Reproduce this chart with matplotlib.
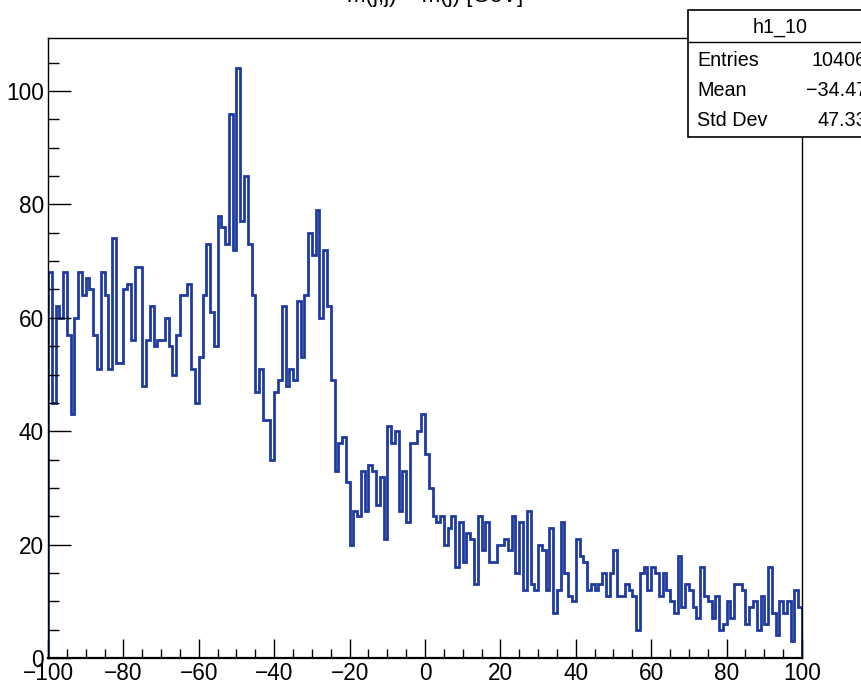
import numpy as np
import matplotlib
matplotlib.use("Agg")
import matplotlib.pyplot as plt
from matplotlib.patches import Rectangle
from matplotlib.ticker import MultipleLocator
from matplotlib import font_manager

# datos del histograma (200 bins de -100 a 100)
x_min, x_max, n_bins = -100, 100, 200
counts = [
    68, 45, 62, 60, 68, 57, 43, 60, 68, 64, 67, 65, 57, 51, 68, 64, 51, 74, 52, 52,
    65, 66, 56, 69, 69, 48, 56, 62, 55, 56, 56, 60, 55, 50, 57, 64, 64, 66, 51, 45,
    53, 64, 73, 61, 55, 78, 76, 73, 96, 72, 104, 77, 85, 73, 64, 47, 51, 42, 42, 35,
    47, 49, 62, 48, 51, 49, 63, 53, 64, 75, 71, 79, 60, 72, 62, 49, 33, 38, 39, 31,
    20, 26, 25, 33, 26, 34, 33, 27, 32, 21, 41, 38, 40, 26, 33, 24, 38, 38, 40, 43,
    36, 30, 25, 24, 25, 20, 23, 25, 16, 24, 17, 22, 21, 13, 25, 19, 24, 17, 17, 20,
    20, 21, 19, 25, 15, 24, 12, 26, 13, 12, 20, 19, 12, 23, 8, 12, 24, 15, 11, 10,
    21, 18, 17, 12, 13, 12, 13, 15, 11, 15, 19, 11, 11, 13, 12, 11, 5, 15, 16, 12,
    16, 15, 11, 15, 12, 10, 8, 18, 9, 13, 12, 9, 7, 16, 11, 10, 7, 11, 5, 6,
    10, 7, 13, 13, 12, 6, 9, 10, 5, 11, 6, 16, 8, 4, 10, 8, 10, 3, 12, 9,
]
hist_name = "h1_10"
stat_names = ["Entries", "Mean", "Std Dev"]
stat_values = ["10406", "\u221234.47", "47.33"]
titulo = "m(j,j) \u2212 m(j) [GeV]"

# fuente estrecha tipo Helvetica si existe
nombres = {f.name for f in font_manager.fontManager.ttflist}
if "Liberation Sans Narrow" in nombres:
    fuente = ["Liberation Sans Narrow", "DejaVu Sans"]
    t_tick, t_stat = 17.5, 16.5
else:
    fuente = ["Liberation Sans", "DejaVu Sans"]
    t_tick, t_stat = 16.3, 14.2
plt.rcParams["font.family"] = fuente
plt.rcParams["axes.unicode_minus"] = True

W, H = 862, 693
fig = plt.figure(figsize=(W / 100, H / 100), dpi=100)
ax = fig.add_axes([48 / W, 1 - 658 / H, (802 - 48) / W, (658 - 38) / H])

# histograma como escalones
edges = np.linspace(x_min, x_max, n_bins + 1)
ax.stairs(counts, edges, color="#1f3b9f", lw=2.0, baseline=0)

ax.set_xlim(x_min, x_max)
ax.set_ylim(0, (658 - 38) / 5.67)

# ejes estilo ROOT
ax.xaxis.set_major_locator(MultipleLocator(20))
ax.xaxis.set_minor_locator(MultipleLocator(5))
ax.yaxis.set_major_locator(MultipleLocator(20))
ax.yaxis.set_minor_locator(MultipleLocator(5))
ax.tick_params(axis="x", which="major", direction="in", length=13.4, width=1,
               labelsize=t_tick, pad=3, top=False)
ax.tick_params(axis="x", which="minor", direction="in", length=6.7, width=1, top=False)
ax.tick_params(axis="y", which="major", direction="in", length=16.3, width=1,
               labelsize=t_tick, pad=3, right=False)
ax.tick_params(axis="y", which="minor", direction="in", length=8.1, width=1, right=False)
for s in ax.spines.values():
    s.set_color("black")
    s.set_linewidth(1.0)
ax.spines["bottom"].set_linewidth(1.6)

# titulo (cortado arriba como en la imagen)
fig.text(0.505, 1.0 - 2 / H, titulo, ha="center", va="baseline", fontsize=16)

# caja de estadisticas
px = lambda x: x / W
py = lambda y: 1 - y / H
caja = Rectangle((px(688), py(137)), px(200), py(10) - py(137), transform=fig.transFigure,
                 facecolor="white", edgecolor="black", lw=1.2, zorder=5)
fig.patches.append(caja)
fig.add_artist(plt.Line2D([px(688), px(900)], [py(42), py(42)], color="black", lw=1,
                          transform=fig.transFigure, zorder=6))
fig.text(px(780), py(27), hist_name, ha="center", va="center", fontsize=t_stat, zorder=7)
for i, (n, v) in enumerate(zip(stat_names, stat_values)):
    yy = py(60 + i * 30)
    fig.text(px(697), yy, n, ha="left", va="center", fontsize=t_stat, zorder=7)
    fig.text(px(867), yy, v, ha="right", va="center", fontsize=t_stat, zorder=7)

fig.savefig("out.png", dpi=100)
